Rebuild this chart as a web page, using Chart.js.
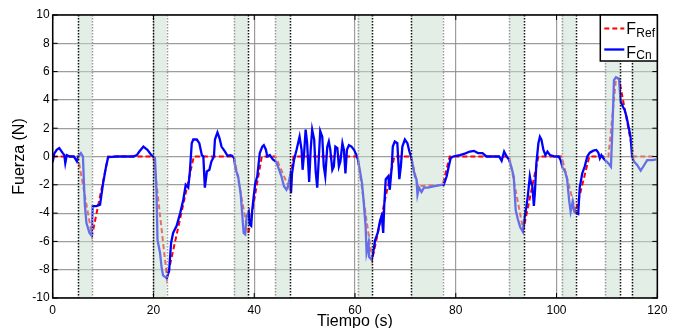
<!DOCTYPE html>
<html>
<head>
<meta charset="utf-8">
<script src="https://cdn.jsdelivr.net/npm/chart.js@4.4.1/dist/chart.umd.min.js"></script>
<style>
  body { margin: 0; background: #fff; overflow: hidden; }
  #wrap { width: 680px; height: 328px; }
</style>
</head>
<body>
<div id="wrap"><canvas id="chart" width="680" height="328"></canvas></div>
<script>
// tick labels
const xTicks = [0, 20, 40, 60, 80, 100, 120];
const yTicks = [-10, -8, -6, -4, -2, 0, 2, 4, 6, 8, 10];

// reference force (red dashed)
const refT = [0, 5, 7.8, 11, 20, 22.7, 28, 36, 38.8, 41.5, 44.2, 46.9, 47.8, 60.5, 63.4, 67.8, 71.1, 72.5, 77.4, 78.8, 90.6, 93.4, 96.4, 101, 103.8, 106.5, 110.3, 111.8, 112.4, 115.3, 120];
const refF = [0, 0, -5.6, 0, 0, -8.6, 0, 0, -5.5, 0, 0, -2.2, 0, 0, -7.3, 0, 0, -2.1, -2.0, 0, 0, -5.2, 0, 0, -3.9, 0, 0, 5.5, 5.5, 0, 0];

// measured force (blue)
const cnT = [0, 0.3, 0.8, 1.3, 2.0, 2.3, 2.5, 2.8, 3.4, 4.2, 4.8, 5.1, 5.6, 6.0, 6.2, 6.4, 6.7, 7.3, 7.75, 7.9, 8.7, 9.4, 10.0, 10.6, 11.0, 12.7, 14.7, 16.0, 16.7, 17.2, 18.0, 18.8, 19.6,
  20.3, 20.6, 20.8, 21.3, 21.6, 21.9, 22.6, 23.1, 23.5, 23.9, 24.6, 25.3, 25.9, 26.4, 26.9, 27.2, 27.6, 27.9, 28.6, 29.1, 29.6, 29.9, 30.2, 30.6, 31.1, 31.5, 32.0, 32.2, 32.7, 33.1, 33.5, 34.2, 34.7, 35.2, 35.6,
  36.0, 36.3, 36.8, 37.3, 37.6, 37.9, 38.2, 38.5, 38.9, 39.1, 39.4, 39.6, 39.9, 40.2, 40.6, 41.1, 41.6, 41.9, 42.3, 42.6, 43.1, 43.7,
  44.3, 44.7, 45.4, 45.9, 46.4, 46.7, 47.1, 47.3, 47.5, 47.9, 48.4, 48.7, 49.0, 49.4, 49.6, 49.9, 50.2, 50.5, 50.9, 51.2, 51.5, 51.9, 52.2, 52.5, 52.8, 53.1, 53.5, 53.8, 54.1, 54.5, 54.8, 55.1, 55.5, 55.8, 56.1, 56.5, 56.8, 57.1, 57.5, 57.8, 58.1, 58.4, 58.8, 59.3, 59.8,
  60.3, 60.6, 61.0, 61.4, 61.7, 62.1, 62.3, 62.7, 62.8, 63.3, 63.6, 64.0, 64.5, 65.0, 65.3, 65.6, 65.8, 66.1, 66.6, 66.9, 67.3, 67.5, 67.9, 68.4, 68.8, 69.1, 69.4, 69.9, 70.4, 70.8,
  71.2, 71.5, 71.9, 72.2, 72.4, 72.7, 73.2, 73.7, 74.5, 75.8, 77.2, 77.6, 78.2, 78.6, 79.0, 79.5, 80.8, 81.8, 82.8, 83.6, 84.4, 85.3, 86.1, 86.9, 87.8, 88.6, 89.1, 89.6, 90.1,
  90.6, 91.0, 91.5, 91.7, 91.9, 92.3, 92.8, 93.3, 93.7, 94.0, 94.3, 94.7, 94.9, 95.2, 95.5, 95.7, 96.0, 96.4, 96.7, 97.0, 97.4, 97.8, 98.2, 98.7, 99.7, 100.4,
  100.8, 101.2, 101.7, 102.1, 102.5, 102.8, 103.2, 103.5, 103.9, 104.3, 104.6, 105.1, 105.6, 106.1, 106.6, 107.3, 107.9, 108.3, 108.6, 108.9, 109.3, 109.6,
  110.0, 110.4, 110.8, 111.1, 111.4, 111.8, 112.4, 112.7, 113.2, 113.5, 113.9, 114.3, 114.7, 115.0, 115.4, 116.0, 116.7, 117.4, 118.0, 119.0, 119.8];
const cnF = [-0.4, 0.2, 0.47, 0.6, 0.24, 0.1, -0.47, 0.1, 0, 0, -0.35, 0, 0.24, 0, -1.9, -3.5, -4.7, -5.4, -5.6, -3.5, -3.5, -3.4, -1.9, -0.7, -0.05, 0, 0, 0, 0.1, 0.35, 0.7, 0.47, 0.1,
  -0.1, -2.5, -5.9, -6.8, -7.8, -8.4, -8.6, -8.1, -6.1, -5.4, -4.9, -4.0, -3.1, -2.0, -2.2, -1.2, 0.94, 1.2, 1.2, 0.94, 0.1, 0, -2.2, -1.06, -0.94, -0.35, 0, 1.2, 1.7, 1.3, 0.7, 0.35, 0.05, 0.1, 0.05,
  -0.1, -0.9, -1.4, -2.6, -4.0, -5.4, -5.5, -4.2, -3.9, -4.8, -4.9, -3.8, -2.8, -1.9, -1.4, 0.24, 0.7, 0.8, 0.5, 0, 0.1, -0.2,
  -0.35, -0.7, -1.4, -2.1, -2.35, -2.1, -1.4, -2.6, -1.2, -0.24, 0.47, 0.94, 1.4, 0.47, -0.94, 0.24, 1.9, 0.94, -1.8, 0.47, 1.9, 1.2, -1.06, -2.2, -0.24, 1.8, 1.4, -0.7, -1.4, 0.7, 1.06, 0.47, -0.94, -0.7, 0.7, 0.6, -0.7, -0.35, 0.94, 0.47, -1.2, 0.47, 0.8, 0.7, 0.47,
  0.1, -0.24, -1.06, -1.9, -3.1, -4.9, -6.8, -6.1, -7.1, -7.3, -6.8, -5.9, -5.4, -4.5, -4.2, -5.4, -3.5, -1.6, -1.4, -2.35, -0.7, 0.7, 1.06, 0.94, -1.6, -0.7, 0.7, 1.2, 0.94, 0.35,
  -0.1, -0.7, -1.4, -1.6, -2.7, -2.2, -2.5, -2.2, -2.2, -2.1, -2.0, -2.0, -1.4, -0.7, -0.1, 0, 0.1, 0.2, 0.35, 0.4, 0.24, 0.24, 0, 0, 0, 0, -0.3, 0.35, 0,
  -0.24, -0.7, -1.4, -2.6, -3.8, -4.4, -5.0, -5.3, -4.2, -3.6, -2.8, -1.4, -1.8, -2.1, -3.5, -2.6, -0.47, 0.94, 1.4, 1.2, 0.47, 0.1, 0.35, 0.1, 0, 0,
  -0.24, -0.8, -1.06, -1.6, -3.1, -3.9, -3.2, -3.9, -4.0, -4.06, -2.2, -1.2, -0.7, 0, 0.27, 0.41, 0.46, 0.27, -0.13, 0.1, -0.13, -0.25,
  -0.37, -0.53, -0.72, 2.1, 5.4, 5.6, 5.5, 3.9, 3.5, 3.3, 2.8, 2.1, 1.4, 0, -0.37, -0.6, -1.0, -0.6, -0.25, -0.25, -0.2];

// shaded intervals (s)
const bandStart = [5, 20, 36, 44.2, 60.5, 71.1, 90.6, 101, 109.7, 114.9];
const bandEnd = [7.8, 22.6, 38.8, 47.1, 63.4, 77.4, 93.5, 103.8, 112.6, 120];

const FONT = "'Liberation Sans', Arial, Helvetica, sans-serif";

// which side of each band carries the black dotted line
const blackLeft = [true, true, false, false, false, true, false, false, false, true];

const bandsPlugin = {
  id: 'bands',
  afterDatasetsDraw(chart) {
    const { ctx, chartArea: a, scales: { x } } = chart;
    ctx.save();
    ctx.fillStyle = 'rgba(200, 222, 208, 0.5)';
    bandStart.forEach((s, i) => {
      const x0 = x.getPixelForValue(s);
      const x1 = x.getPixelForValue(bandEnd[i]);
      ctx.fillRect(x0, a.top, x1 - x0, a.bottom - a.top);
    });
    ctx.lineWidth = 1.5;
    ctx.setLineDash([1.5, 1.5]);
    bandStart.forEach((s, i) => {
      const edges = [[s, blackLeft[i]], [bandEnd[i], !blackLeft[i]]];
      edges.forEach(([v, black]) => {
        if (v >= 120) return;
        const px = Math.round(x.getPixelForValue(v)) + 0.5;
        ctx.strokeStyle = black ? '#111' : '#999';
        ctx.beginPath();
        ctx.moveTo(px, a.top);
        ctx.lineTo(px, a.bottom);
        ctx.stroke();
      });
    });
    ctx.restore();
  },
  afterDraw(chart) {
    const { ctx, chartArea: a, scales: { x, y } } = chart;
    ctx.save();
    // axes box with inward ticks
    ctx.strokeStyle = '#000';
    ctx.lineWidth = 1.5;
    ctx.strokeRect(a.left, a.top, a.right - a.left, a.bottom - a.top);
    ctx.lineWidth = 1;
    ctx.beginPath();
    xTicks.forEach(v => {
      const px = x.getPixelForValue(v);
      ctx.moveTo(px, a.top); ctx.lineTo(px, a.top + 5);
      ctx.moveTo(px, a.bottom); ctx.lineTo(px, a.bottom - 5);
    });
    yTicks.forEach(v => {
      const py = y.getPixelForValue(v);
      ctx.moveTo(a.left, py); ctx.lineTo(a.left + 5, py);
      ctx.moveTo(a.right, py); ctx.lineTo(a.right - 5, py);
    });
    ctx.stroke();

    // legend
    const lx = a.right - 57, ly = a.top, lw = 57, lh = 46;
    ctx.fillStyle = '#fff';
    ctx.fillRect(lx, ly, lw, lh);
    ctx.lineWidth = 1.5;
    ctx.strokeRect(lx, ly, lw, lh);

    ctx.lineWidth = 2;
    ctx.strokeStyle = '#ff0000';
    ctx.setLineDash([5, 3]);
    ctx.beginPath(); ctx.moveTo(lx + 4, ly + 13.5); ctx.lineTo(lx + 24, ly + 13.5); ctx.stroke();
    ctx.setLineDash([]);
    ctx.lineWidth = 2.3;
    ctx.strokeStyle = '#0000ff';
    ctx.beginPath(); ctx.moveTo(lx + 4, ly + 34.5); ctx.lineTo(lx + 24, ly + 34.5); ctx.stroke();

    ctx.fillStyle = '#000';
    ctx.textBaseline = 'alphabetic';
    ctx.textAlign = 'left';
    ctx.font = '16px ' + FONT;
    ctx.fillText('F', lx + 26, ly + 18.5);
    ctx.fillText('F', lx + 26, ly + 42.5);
    ctx.font = '12px ' + FONT;
    ctx.fillText('Ref', lx + 36, ly + 21.5);
    ctx.fillText('Cn', lx + 36, ly + 43.5);
    ctx.restore();
  }
};

const gridColor = 'rgba(140, 140, 140, 0.85)';

new Chart(document.getElementById('chart').getContext('2d'), {
  type: 'line',
  data: {
    datasets: [
      {
        label: 'F_Ref',
        data: refT.map((t, i) => ({ x: t, y: refF[i] })),
        borderColor: '#ff0000',
        borderWidth: 2,
        borderDash: [5, 3],
        pointRadius: 0,
        tension: 0,
        fill: false,
        order: 2
      },
      {
        label: 'F_Cn',
        data: cnT.map((t, i) => ({ x: t, y: cnF[i] })),
        borderColor: '#0000ff',
        borderWidth: 2.3,
        pointRadius: 0,
        tension: 0,
        fill: false,
        order: 1
      }
    ]
  },
  options: {
    responsive: false,
    animation: false,
    layout: { padding: { top: 15, right: 22.7, left: 0, bottom: 0 } },
    plugins: { legend: { display: false }, tooltip: { enabled: false } },
    scales: {
      x: {
        type: 'linear',
        min: 0,
        max: 120,
        afterBuildTicks: s => { s.ticks = xTicks.map(v => ({ value: v })); },
        afterFit: s => { s.height = 30; },
        ticks: { padding: 5, color: '#000', font: { family: FONT, size: 12 }, maxRotation: 0 },
        grid: { color: gridColor, lineWidth: 1.2, drawTicks: false },
        border: { display: false },
        title: { display: true, text: 'Tiempo (s)', color: '#000', font: { family: FONT, size: 16 }, padding: { top: 0, bottom: -3 } }
      },
      y: {
        min: -10,
        max: 10,
        afterBuildTicks: s => { s.ticks = yTicks.map(v => ({ value: v })); },
        afterFit: s => { s.width = 52.7; },
        ticks: { padding: 3, color: '#000', font: { family: FONT, size: 12 } },
        grid: { color: gridColor, lineWidth: 1.2, drawTicks: false },
        border: { display: false },
        title: { display: true, text: 'Fuerza (N)', color: '#000', font: { family: FONT, size: 16 }, padding: { top: 10, bottom: 0 } }
      }
    }
  },
  plugins: [bandsPlugin]
});
</script>
</body>
</html>
